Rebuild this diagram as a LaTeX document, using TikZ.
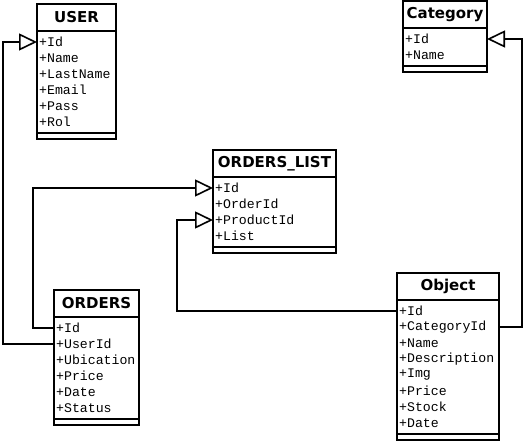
\documentclass[tikz,border=0pt]{standalone}
\usepackage{fontspec}
\setmonofont{Liberation Mono}
\newfontfamily\headfont{DejaVu Sans}
\usetikzlibrary{positioning,arrows.meta}

\begin{document}
\begin{tikzpicture}[x=1pt,y=-1pt,
  head/.style={draw,line width=1.5pt,anchor=north west,inner sep=0pt,outer sep=0pt,minimum height=27pt,font=\headfont\bfseries\fontsize{15}{17}\selectfont},
  body/.style={draw,line width=1.2pt,inner sep=0pt,outer sep=0pt,below=0pt of #1},
  attr/.style={anchor=west,inner xsep=2pt,inner ysep=0pt,font=\ttfamily\fontsize{13.2}{16}\selectfont},
  link/.style={line width=1.6pt,-{Triangle[open,length=18pt,width=17pt,line width=1.6pt]}}]
  \useasboundingbox (0,0) rectangle (526,443);

  % USER table (top left)
  \node[head,minimum width=79pt] (user) at (37,4) {USER};
  \node[body=user,minimum width=79pt,minimum height=102pt] (user-body) {};
  \node[body=user-body,minimum width=79pt,minimum height=6pt] (user-foot) {};
  \node[attr] (user-id) at (37,42) {+Id};
  \node[attr] (user-name) at (37,58) {+Name};
  \node[attr] (user-lastname) at (37,74) {+LastName};
  \node[attr] (user-email) at (37,90) {+Email};
  \node[attr] (user-pass) at (37,106) {+Pass};
  \node[attr] (user-rol) at (37,122) {+Rol};

  % Category table (top right)
  \node[head,minimum width=84pt] (cat) at (403,1) {Category};
  \node[body=cat,minimum width=84pt,minimum height=38pt] (cat-body) {};
  \node[body=cat-body,minimum width=84pt,minimum height=6pt] (cat-foot) {};
  \node[attr] (cat-id) at (403,39) {+Id};
  \node[attr] (cat-name) at (403,55) {+Name};

  % ORDERS_LIST table (middle)
  \node[head,minimum width=123pt] (list) at (213,150) {ORDERS\_LIST};
  \node[body=list,minimum width=123pt,minimum height=70pt] (list-body) {};
  \node[body=list-body,minimum width=123pt,minimum height=6pt] (list-foot) {};
  \node[attr] (list-id) at (213,188) {+Id};
  \node[attr] (list-orderid) at (213,204) {+OrderId};
  \node[attr] (list-productid) at (213,220) {+ProductId};
  \node[attr] (list-list) at (213,236) {+List};

  % ORDERS table (bottom left)
  \node[head,minimum width=85pt] (orders) at (54,290) {ORDERS};
  \node[body=orders,minimum width=85pt,minimum height=102pt] (orders-body) {};
  \node[body=orders-body,minimum width=85pt,minimum height=6pt] (orders-foot) {};
  \node[attr] (orders-id) at (54,328) {+Id};
  \node[attr] (orders-userid) at (54,344) {+UserId};
  \node[attr] (orders-ubication) at (54,360) {+Ubication};
  \node[attr] (orders-price) at (54,376) {+Price};
  \node[attr] (orders-date) at (54,392) {+Date};
  \node[attr] (orders-status) at (54,408) {+Status};

  % Object table (bottom right)
  \node[head,minimum width=102pt] (obj) at (397,273) {Object};
  \node[body=obj,minimum width=102pt,minimum height=134pt] (obj-body) {};
  \node[body=obj-body,minimum width=102pt,minimum height=6pt] (obj-foot) {};
  \node[attr] (obj-id) at (397,311) {+Id};
  \node[attr] (obj-categoryid) at (397,327) {+CategoryId};
  \node[attr] (obj-name) at (397,343) {+Name};
  \node[attr] (obj-description) at (397,359) {+Description};
  \node[attr] (obj-img) at (397,375) {+Img};
  \node[attr] (obj-price) at (397,391) {+Price};
  \node[attr] (obj-stock) at (397,407) {+Stock};
  \node[attr] (obj-date) at (397,423) {+Date};

  % bends of the connectors
  \coordinate (user-bus) at (3,0);
  \coordinate (list-bus) at (33,0);
  \coordinate (prod-bus) at (177,0);
  \coordinate (cat-bus) at (522,0);

  % Connections
  \draw[link] (orders-userid.west) -- (orders-userid.west -| user-bus) -- (user-id.west -| user-bus) -- (user-id.west);
  \draw[link] (orders-id.west) -- (orders-id.west -| list-bus) -- (list-id.west -| list-bus) -- (list-id.west);
  \draw[link] (obj-id.west) -- (obj-id.west -| prod-bus) -- (list-productid.west -| prod-bus) -- (list-productid.west);
  \draw[link] (obj-categoryid.west -| obj.east) -- (obj-categoryid.west -| cat-bus) -- (cat-id.west -| cat-bus) -- (cat-id.west -| cat.east);
\end{tikzpicture}
\end{document}
